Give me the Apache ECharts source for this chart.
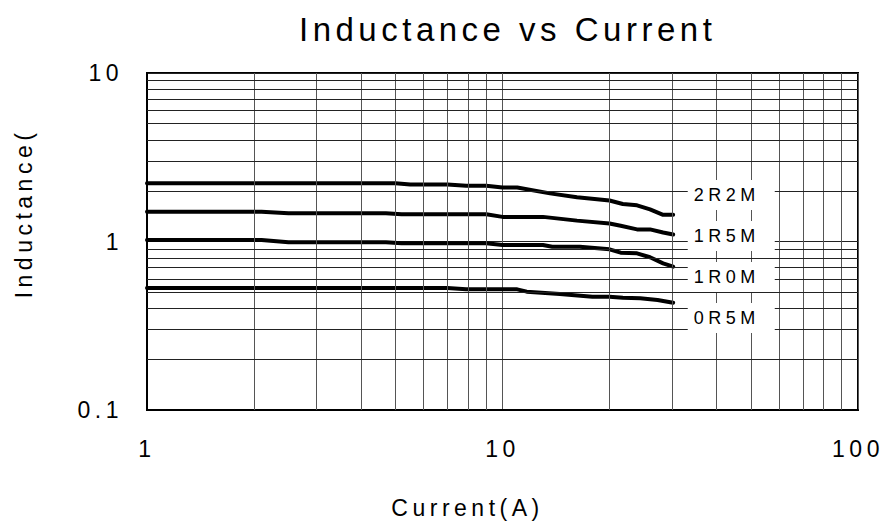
<!DOCTYPE html>
<html><head><meta charset="utf-8">
<script src="https://cdn.jsdelivr.net/npm/echarts@6/dist/echarts.min.js"></script>
<style>
html,body{margin:0;padding:0;background:#fff}
#main{width:883px;height:522px}
#main svg text{letter-spacing:4.5px}
</style></head><body><div id="main"></div>
<script>
const chartTitle = 'Inductance vs Current';
const xAxisName = 'Current(A)';
const yAxisName = 'Inductance(';
const seriesNames = ['2R2M', '1R5M', '1R0M', '0R5M'];

const current2R2M = [1, 5, 5.5, 7, 7.9, 9, 10, 11, 13.6, 16.2, 20, 21.8, 23.9, 26, 28.3, 30.2];
const induct2R2M  = [2.22, 2.22, 2.18, 2.18, 2.14, 2.14, 2.09, 2.09, 1.93, 1.83, 1.75, 1.67, 1.64, 1.55, 1.44, 1.44];

const current1R5M = [1, 2.1, 2.5, 4.7, 5.2, 9, 10, 13, 16.2, 20, 21.5, 23.9, 26, 28.3, 30.2];
const induct1R5M  = [1.50, 1.50, 1.47, 1.47, 1.45, 1.45, 1.40, 1.40, 1.33, 1.28, 1.24, 1.18, 1.18, 1.13, 1.10];

const current1R0M = [1, 2.1, 2.5, 4.7, 5.2, 9, 10, 13, 13.8, 16.5, 20, 21.5, 23.9, 26, 28.3, 30.2];
const induct1R0M  = [1.02, 1.02, 0.99, 0.99, 0.975, 0.975, 0.953, 0.953, 0.931, 0.931, 0.899, 0.858, 0.851, 0.806, 0.742, 0.709];

const current0R5M = [1, 7, 7.9, 11, 11.7, 14.5, 17.9, 20, 21.8, 24.4, 27.3, 30.2];
const induct0R5M  = [0.53, 0.53, 0.52, 0.52, 0.504, 0.488, 0.47, 0.47, 0.464, 0.46, 0.45, 0.433];

// series label anchor positions (data coordinates)
const labelCurrent = 44;
const labelInduct = [1.89, 1.078, 0.615, 0.351];

// minor log grid values
const minorCurrent = [2, 3, 4, 5, 6, 7, 8, 9, 20, 30, 40, 50, 60, 70, 80, 90];
const minorInduct = [0.2, 0.3, 0.4, 0.5, 0.6, 0.7, 0.8, 0.9, 2, 3, 4, 5, 6, 7, 8, 9];

const currents = [current2R2M, current1R5M, current1R0M, current0R5M];
const inducts = [induct2R2M, induct1R5M, induct1R0M, induct0R5M];

const FONT = '"Liberation Sans", Arial, sans-serif';

const chart = echarts.init(document.getElementById('main'), null, {renderer: 'svg'});

const curveSeries = seriesNames.map((n, i) => ({
  type: 'line',
  name: n,
  data: currents[i].map((x, j) => [x, inducts[i][j]]),
  symbol: 'none',
  showSymbol: false,
  silent: true,
  z: 3,
  lineStyle: {color: '#000', width: 4, cap: 'round', join: 'round'}
}));

const gridSeries = {
  type: 'line',
  data: [],
  silent: true,
  z: 1,
  markLine: {
    silent: true,
    animation: false,
    symbol: ['none', 'none'],
    label: {show: false},
    data: [
      ...minorCurrent.map(v => ({xAxis: v, lineStyle: {color: '#555', width: 1, type: 'solid'}})),
      ...minorInduct.map(v => ({yAxis: v, lineStyle: {color: '#222', width: 1, type: 'solid'}}))
    ]
  }
};

const labelSeries = {
  type: 'scatter',
  data: labelInduct.map((y, i) => ({value: [labelCurrent, y], name: seriesNames[i]})),
  symbolSize: 0,
  silent: true,
  z: 5,
  label: {
    show: true,
    position: 'inside',
    formatter: p => p.name,
    fontFamily: FONT,
    fontSize: 18,
    color: '#000',
    opacity: 1,
    backgroundColor: '#fff',
    padding: [6, 24, 6, 15]
  }
};

chart.setOption({
  animation: false,
  backgroundColor: '#fff',
  title: {
    text: chartTitle,
    left: 294,
    top: 8,
    textStyle: {fontFamily: FONT, fontSize: 33, fontWeight: 'normal', color: '#000'}
  },
  grid: {
    left: 147, right: 25, top: 73, bottom: 112,
    show: true, borderColor: '#000', borderWidth: 2,
    outerBoundsMode: 'none'
  },
  xAxis: {
    type: 'log', logBase: 10, min: 1, max: 100,
    name: xAxisName, nameLocation: 'middle', nameGap: 86,
    nameTextStyle: {fontFamily: FONT, fontSize: 23, color: '#000', padding: [0, 70, 0, 0]},
    axisLine: {lineStyle: {color: '#000', width: 2}},
    axisTick: {show: false},
    axisLabel: {fontFamily: FONT, fontSize: 23, color: '#000', margin: 27},
    splitLine: {show: true, lineStyle: {color: '#555', width: 1}},
    minorTick: {show: false}, minorSplitLine: {show: false}
  },
  yAxis: {
    type: 'log', logBase: 10, min: 0.1, max: 10,
    name: yAxisName, nameLocation: 'middle', nameGap: 112, nameRotate: 90,
    nameTextStyle: {fontFamily: FONT, fontSize: 23, color: '#000', padding: [0, 0, 0, 56]},
    axisLine: {lineStyle: {color: '#000', width: 2}},
    axisTick: {show: false},
    axisLabel: {fontFamily: FONT, fontSize: 23, color: '#000', margin: 24},
    splitLine: {show: true, lineStyle: {color: '#222', width: 1}},
    minorTick: {show: false}, minorSplitLine: {show: false}
  },
  series: [gridSeries, ...curveSeries, labelSeries]
});
</script></body></html>
